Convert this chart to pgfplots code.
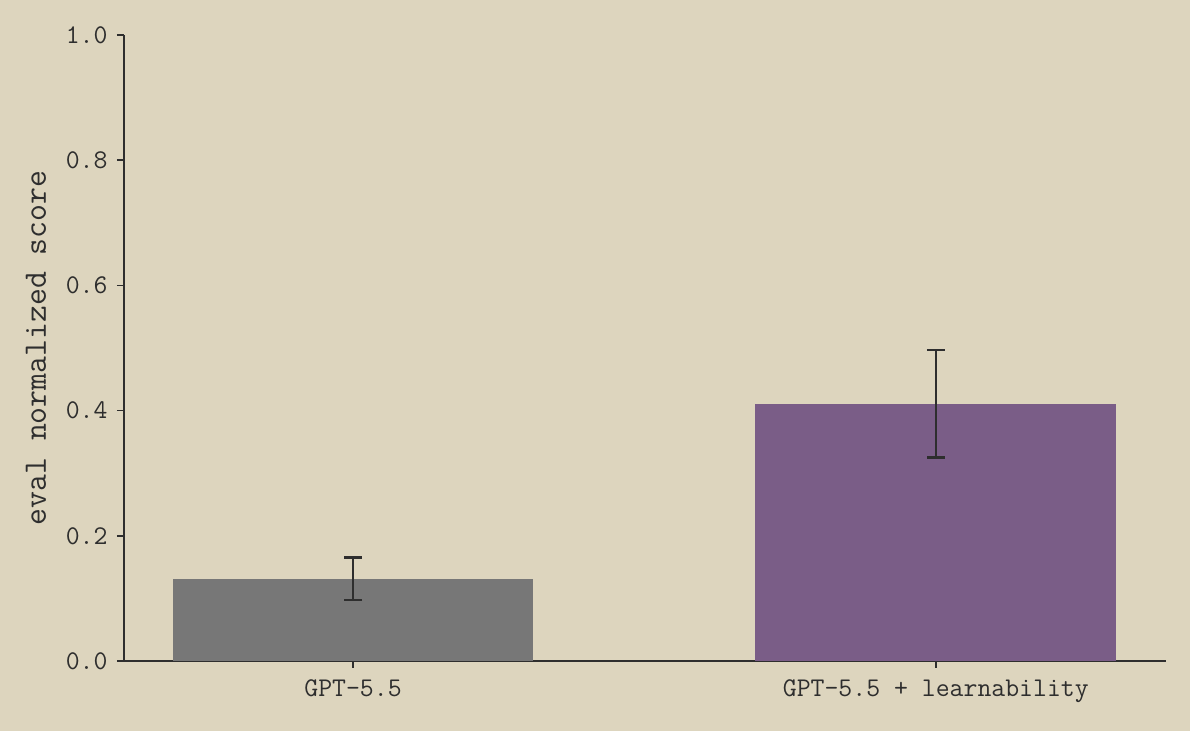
\documentclass[border=0pt]{standalone}
\usepackage{pgfplots}
\pgfplotsset{compat=1.18}
\usepackage{fontspec}
\definecolor{bgbeige}{HTML}{DDD5BE}
\definecolor{bargray}{HTML}{777777}
\definecolor{barpurple}{HTML}{7A5D87}
\definecolor{inkgray}{HTML}{2E2E2E}

\begin{document}
\begin{tikzpicture}
  \path[use as bounding box, fill=bgbeige] (0,0) rectangle (595pt,365.5pt);
  \begin{axis}[
      at={(62pt,35pt)}, anchor=south west,
      scale only axis, width=521pt, height=313pt,
      xmin=-0.393, xmax=1.395, ymin=0, ymax=1,
      axis x line*=bottom, axis y line*=left,
      axis line style={inkgray, line width=0.9pt, -},
      xtick={0,1}, xticklabels={GPT-5.5, GPT-5.5 + learnability},
      ytick={0,0.2,...,1.0},
      yticklabel style={xshift=-1.2pt, /pgf/number format/.cd, fixed, fixed zerofill, precision=1},
      /pgf/number format/assume math mode=true,
      tick align=outside, major tick length=3.5pt,
      tick style={inkgray, line width=0.8pt},
      ticklabel style={font=\ttfamily\fontsize{13.5}{15}\selectfont, text=inkgray},
      xticklabel style={yshift=-2.5pt},
      ylabel={eval normalized score},
      ylabel style={font=\ttfamily\fontsize{16.4}{18}\selectfont, text=inkgray},
      ylabel shift=3pt,
      ybar, bar width=0.619, bar shift=0pt,
      error bars/y dir=both, error bars/y explicit,
      error bars/error bar style={inkgray, line width=1.2pt},
      error bars/error mark options={rotate=90, mark size=4.5pt, inkgray, line width=1.2pt},
    ]
    \addplot[fill=bargray, draw=none] coordinates {(0,0.131) +- (0,0.034)};
    \addplot[fill=barpurple, draw=none] coordinates {(1,0.411) +- (0,0.086)};
  \end{axis}
\end{tikzpicture}
\end{document}
